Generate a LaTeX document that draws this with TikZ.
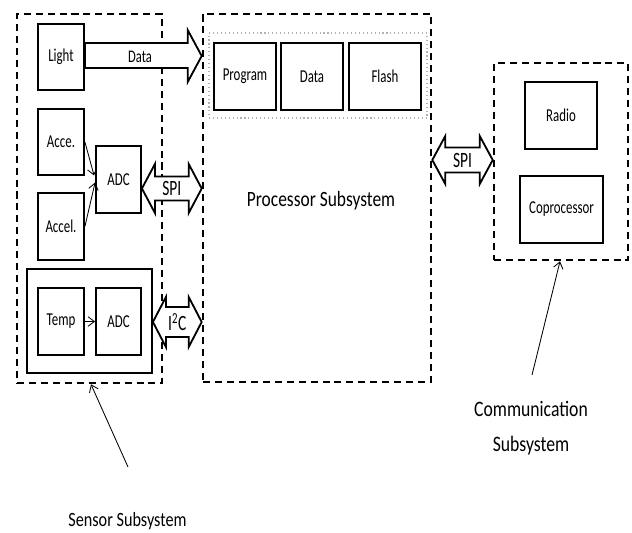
\documentclass[tikz,border=0pt]{standalone}
\usepackage{fontspec}
\setmainfont{Carlito}
\newfontfamily\boxfont{Carlito}[FakeStretch=0.71]
\newfontfamily\capfont{Carlito}[FakeStretch=0.8]
\usetikzlibrary{arrows.meta, calc}

% horizontal two-headed bus arrow: {left node}{right node}{y}{shaft half}{head half}{label}
\newcommand{\busarrow}[6]{%
  \draw[bus] (#1 |- 0,#3) -- ++(13,-#5) -- ++(0,#5-#4)
    -- ($(#2 |- 0,#3)+(-13,-#4)$) -- ++(0,#4-#5) -- (#2 |- 0,#3)
    -- ++(-13,#5) -- ++(0,#4-#5)
    -- ($(#1 |- 0,#3)+(13,#4)$) -- ++(0,#5-#4) -- cycle;
  \node[buslbl] at ($(#1 |- 0,#3)!0.5!(#2 |- 0,#3)$) {#6};}

\begin{document}
\begin{tikzpicture}[
    x=0.025cm, y=-0.025cm,
    lbl/.style={font=\boxfont\fontsize{12.6}{15}\selectfont, inner sep=0pt},
    buslbl/.style={font=\boxfont\fontsize{15.5}{18}\selectfont, inner sep=0pt},
    big/.style={font=\capfont\fontsize{#1}{24.9}\selectfont, align=center, inner sep=0pt},
    subsys/.style={draw, line width=1.8pt, dash pattern=on 5pt off 3.5pt,
                   inner sep=0pt},
    blk/.style={draw, line width=1.3pt, minimum width=1.15cm, minimum height=1.675cm,
                inner sep=1pt, font=\boxfont\fontsize{12.9}{15}\selectfont},
    bus/.style={draw, line width=1.3pt, fill=white, line join=miter},
    ptr/.style={-{Straight Barb[length=1.6mm, width=2.4mm]}, line width=0.6pt},
  ]
  \useasboundingbox (0,0) rectangle (632,533);

  % subsystem frames
  \node[subsys, minimum width=3.625cm, minimum height=9.225cm] (sensor) at (89.5,198.5) {};
  \node[subsys, minimum width=5.7cm, minimum height=9.2cm] (proc) at (317,198) {};
  \node[subsys, minimum width=3.35cm, minimum height=4.925cm] (comm) at (561,161.5) {};

  % sensors
  \node[blk, minimum height=1.65cm] (light) at (61,57)    {Light};
  \node[blk, minimum height=1.65cm] (acce)  at (61,142)   {Acce.};
  \node[blk, minimum width=1.125cm] (adcA)  at (118.5,179.5) {ADC};
  \node[blk] (accel) at (61,226.5) {Accel.};
  \node[draw, line width=1.3pt, minimum width=3.125cm, minimum height=2.6cm] (tempbox) at (89.5,321) {};
  \node[blk] (temp) at (61,321.5)   {Temp};
  \node[blk, minimum width=1.125cm] (adcB) at (118.5,321.5) {ADC};

  % memories
  \node[draw=gray!60, dotted, line width=0.8pt, minimum width=5.45cm, minimum height=2.125cm] (mem) at (318,75.5) {};
  \node[blk, minimum width=1.55cm] (program) at (245,76.5) {Program};
  \node[blk, minimum width=1.55cm] (data)    at (312,76.5) {Data};
  \node[blk, minimum width=1.8cm]  (flash)   at (385,76.5) {Flash};
  \node[big=15.5] (proclbl) at (321,201) {Processor Subsystem};

  % radio side
  \node[blk, minimum width=1.8cm]   (radio) at (561,115.5) {Radio};
  \node[blk, minimum width=2.075cm] (copro) at (561.5,209.5) {Coprocessor};

  % thin links
  \draw[ptr] (acce.east) -- ($(adcA.west)+(-1,-4)$);
  \draw[ptr] (accel.east) -- ($(adcA.west)+(0,3)$);
  \draw[ptr] (temp.east) -- (adcB.west);

  % data bus (single head)
  \draw[bus] (light.east |- 0,43) -- ($(proc.west |- 0,43)+(-14,0)$) -- ++(0,-13)
    -- (proc.west |- 0,56) -- ($(proc.west |- 0,82)+(-14,0)$) -- ++(0,-14)
    -- (light.east |- 0,68) -- cycle;
  \node[lbl] (datalbl) at (140,57) {Data};

  % serial buses
  \busarrow{adcA.east}{proc.west}{188.5}{12}{24.5}{SPI}
  \busarrow{tempbox.east}{proc.west}{322}{15}{25}{I\textsuperscript{2}C}
  \busarrow{proc.east}{comm.west}{160}{12.5}{24}{SPI}

  % captions
  \node[big=14.4] (sensorlbl) at (127.5,521) {Sensor Subsystem};
  \coordinate (sensortail) at (128,467);
  \draw[ptr] (sensortail) -- ($(sensor.south)+(1.5,0)$);
  \node[big=15.7] (commlbl) at (531,428) {Communication\\Subsystem};
  \coordinate (commtail) at (532,375);
  \draw[ptr] (commtail) -- ($(comm.south)+(-1,0)$);
\end{tikzpicture}
\end{document}
